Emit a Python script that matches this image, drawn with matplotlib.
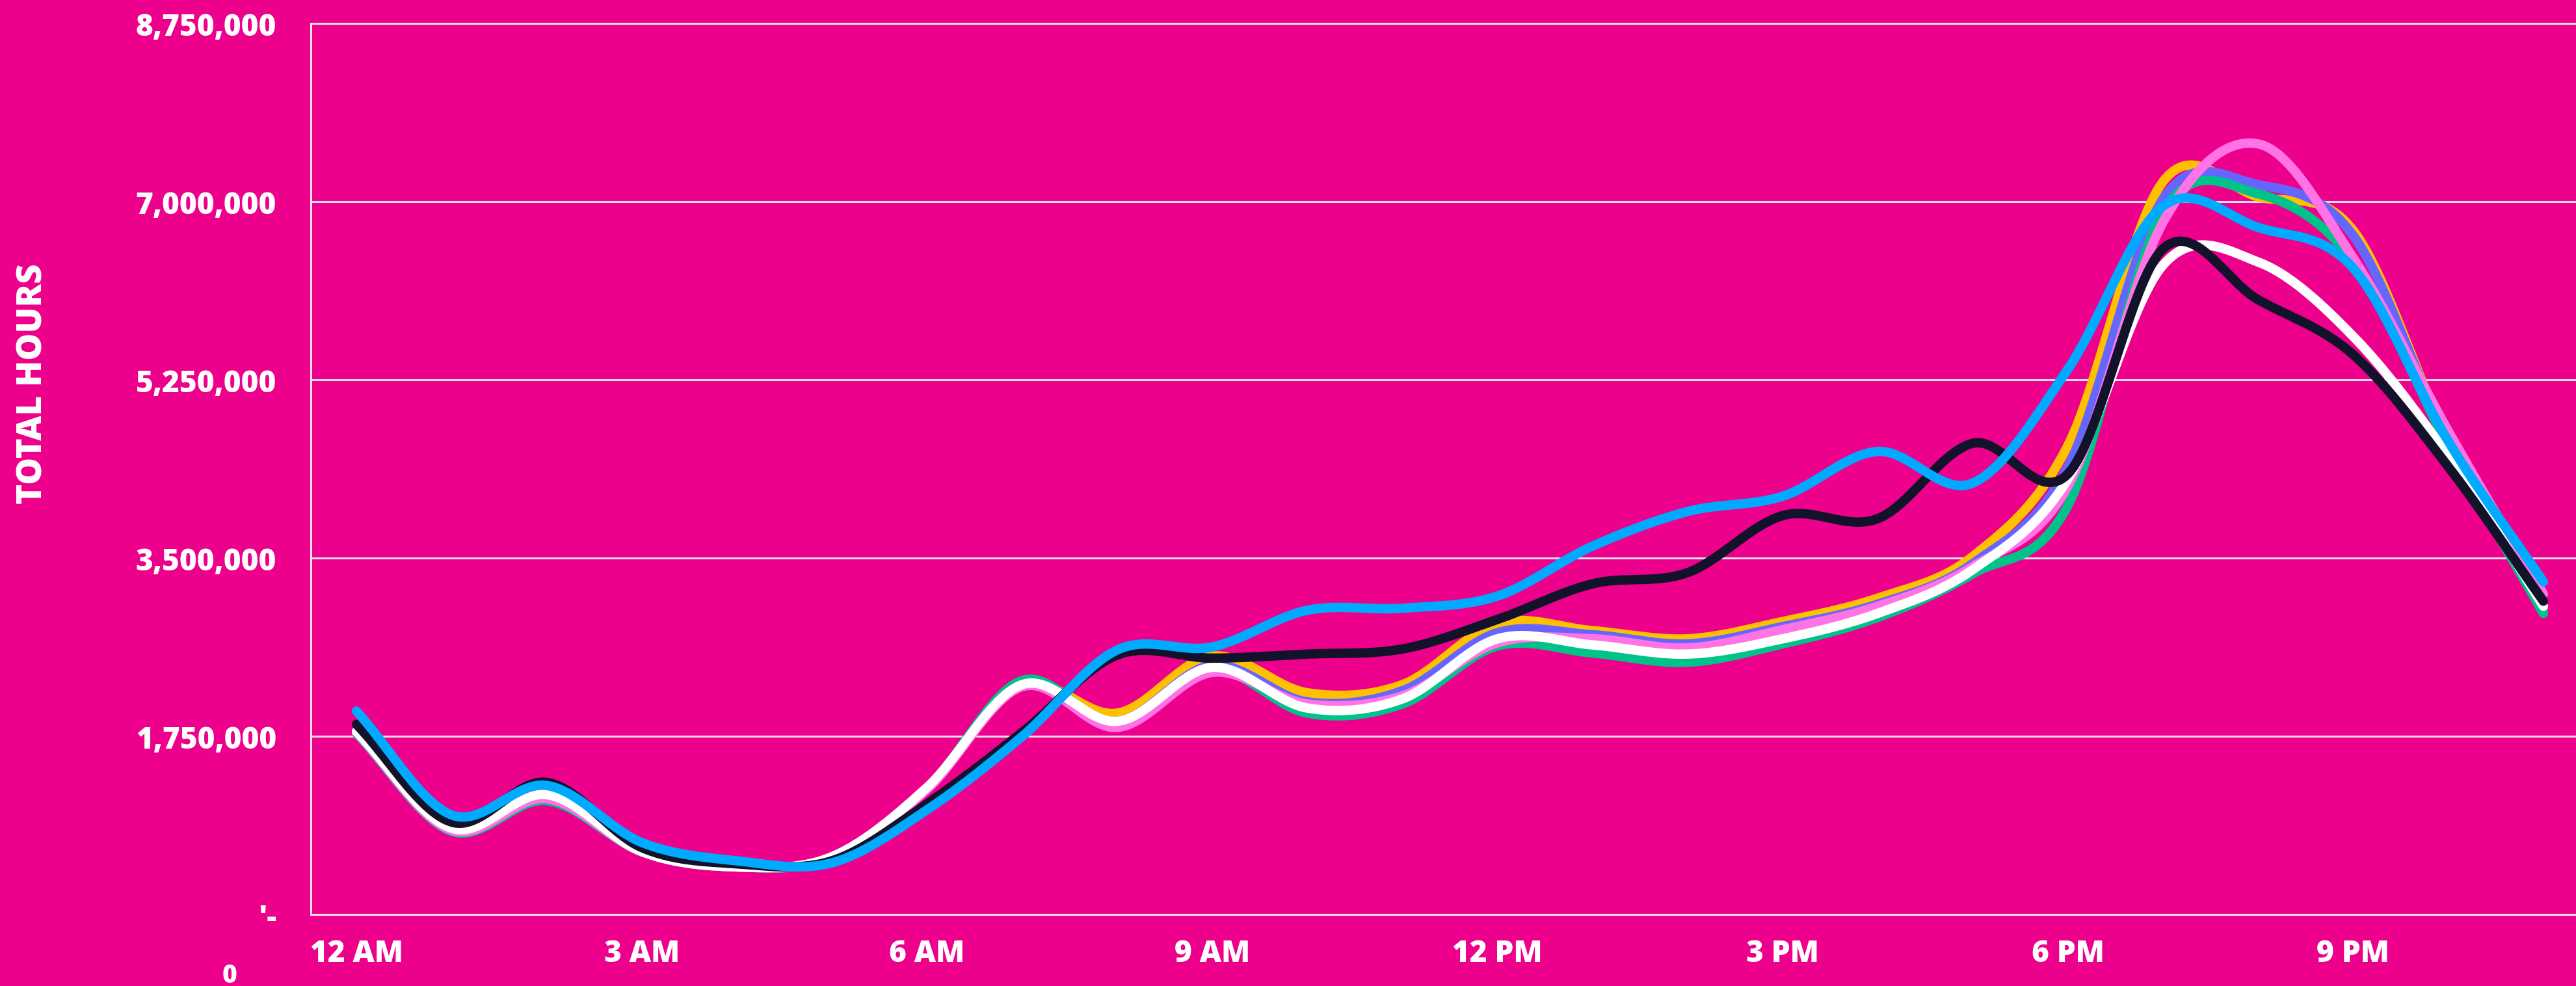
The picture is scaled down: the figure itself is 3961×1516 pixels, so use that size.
import numpy as np
import matplotlib
matplotlib.use('Agg')
import matplotlib.pyplot as plt

# hourly totals (millions of hours)
hours = list(range(24))
yellow = [1.80, 0.85, 1.17, 0.62, 0.47, 0.56, 1.24, 2.25, 1.98, 2.54, 2.18, 2.26,
          2.86, 2.79, 2.71, 2.88, 3.11, 3.52, 4.61, 7.20, 7.05, 6.72, 4.65, 3.00]
periwinkle = [1.80, 0.85, 1.17, 0.62, 0.47, 0.56, 1.24, 2.25, 1.90, 2.45, 2.09, 2.20,
              2.77, 2.75, 2.66, 2.83, 3.05, 3.45, 4.40, 7.03, 7.17, 6.67, 4.65, 3.00]
green = [1.78, 0.82, 1.12, 0.62, 0.47, 0.56, 1.24, 2.30, 1.87, 2.41, 1.98, 2.07,
         2.64, 2.57, 2.48, 2.66, 2.92, 3.35, 4.02, 6.90, 7.08, 6.42, 4.60, 2.96]
pink = [1.79, 0.83, 1.14, 0.62, 0.47, 0.56, 1.23, 2.24, 1.84, 2.38, 2.07, 2.15,
        2.67, 2.71, 2.62, 2.80, 3.03, 3.42, 4.21, 6.80, 7.57, 6.45, 4.75, 3.15]
white = [1.80, 0.85, 1.18, 0.62, 0.47, 0.57, 1.25, 2.26, 1.90, 2.43, 2.03, 2.12,
         2.71, 2.65, 2.56, 2.71, 2.96, 3.39, 4.28, 6.38, 6.41, 5.68, 4.50, 3.03]
black = [1.87, 0.91, 1.30, 0.66, 0.50, 0.53, 1.09, 1.79, 2.55, 2.52, 2.56, 2.61,
         2.90, 3.25, 3.36, 3.92, 3.89, 4.63, 4.33, 6.54, 6.04, 5.50, 4.40, 3.08]
blue = [2.00, 0.98, 1.27, 0.71, 0.53, 0.51, 1.03, 1.75, 2.60, 2.63, 2.99, 3.01,
        3.13, 3.62, 3.96, 4.11, 4.55, 4.24, 5.36, 6.96, 6.75, 6.35, 4.65, 3.27]

series = [yellow, periwinkle, green, pink, white, black, blue]
colors = ['#FFC000', '#6666FF', '#00C389', '#FF73E6', '#FFFFFF', '#12122B', '#00AAFF']

xtick_pos = [0, 3, 6, 9, 12, 15, 18, 21]
xtick_labels = ['12 AM', '3 AM', '6 AM', '9 AM', '12 PM', '3 PM', '6 PM', '9 PM']
ytick_pos = [0, 1750000, 3500000, 5250000, 7000000, 8750000]
ytick_labels = ["'-", '1,750,000', '3,500,000', '5,250,000', '7,000,000', '8,750,000']

bg = '#EC008C'
grid_c = '#E8E0E6'
font = ['Open Sans', 'DejaVu Sans']


def smooth(x, y, n=30):
    # catmull-rom through the points, like a spreadsheet "smoothed line"
    x = np.asarray(x, float)
    y = np.asarray(y, float)
    px = np.concatenate([[2 * x[0] - x[1]], x, [2 * x[-1] - x[-2]]])
    py = np.concatenate([[2 * y[0] - y[1]], y, [2 * y[-1] - y[-2]]])
    t = np.linspace(0, 1, n, endpoint=False)
    xs, ys = [], []
    for i in range(1, len(px) - 2):
        for p, out in ((px, xs), (py, ys)):
            p0, p1, p2, p3 = p[i - 1], p[i], p[i + 1], p[i + 2]
            out.append(0.5 * (2 * p1 + (-p0 + p2) * t
                              + (2 * p0 - 5 * p1 + 4 * p2 - p3) * t ** 2
                              + (-p0 + 3 * p1 - 3 * p2 + p3) * t ** 3))
    xs.append([x[-1]])
    ys.append([y[-1]])
    return np.concatenate(xs), np.concatenate(ys)


fig = plt.figure(figsize=(19.81, 7.5849), dpi=200, facecolor=bg)
ax = fig.add_axes([0.1206, 0.0722, 0.8794, 0.9031])
ax.set_facecolor(bg)

for vals, c in zip(series, colors):
    sx, sy = smooth(hours, np.array(vals) * 1e6)
    ax.plot(sx, sy, color=c, lw=5.2, solid_capstyle='round', solid_joinstyle='round', zorder=3)

ax.set_xlim(-0.481, 23.35)
ax.set_ylim(0, 8750000)

ax.set_yticks(ytick_pos)
ax.set_yticklabels(ytick_labels)
ax.set_xticks(xtick_pos)
ax.set_xticklabels(xtick_labels)
ax.tick_params(axis='both', length=0, colors='white')
ax.tick_params(axis='y', pad=19)
ax.tick_params(axis='x', pad=13)
for lab in ax.get_xticklabels() + ax.get_yticklabels():
    lab.set_family(font)
    lab.set_fontweight('black')
    lab.set_fontsize(16.5)
    lab.set_color('white')

ax.grid(axis='y', color=grid_c, lw=1.1, zorder=1)
ax.set_axisbelow(True)
for side in ['left', 'top', 'bottom']:
    ax.spines[side].set_color(grid_c)
    ax.spines[side].set_linewidth(1.1)
ax.spines['right'].set_visible(False)

fig.text(51 / 3962, 1 - 590 / 1517, 'TOTAL HOURS', rotation=90, ha='center', va='center',
         color='white', fontsize=19, fontweight='black', family=font)
fig.text(353 / 3962, 1 - 1501 / 1517, '0', ha='center', va='center',
         color='white', fontsize=14, fontweight='black', family=font)

fig.savefig('out.png', dpi=200, facecolor=bg)
